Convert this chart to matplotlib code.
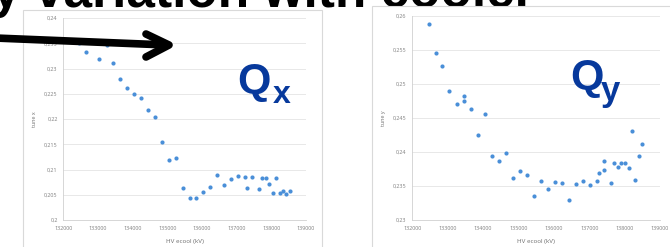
import matplotlib
matplotlib.use("Agg")
import matplotlib.pyplot as plt
from matplotlib.patches import Rectangle
from matplotlib.lines import Line2D
from matplotlib.ticker import FuncFormatter

# tune x vs HV ecool
hv_x = [132450, 132650, 133040, 133250, 133440, 133640, 133840, 134040, 134240,
        134440, 134640, 134840, 135040, 135240, 135440, 135640, 135840, 136040,
        136240, 136440, 136640, 136840, 137030, 137230, 137290, 137430, 137640,
        137730, 137840, 137940, 138040, 138140, 138240, 138340, 138430, 138540]
tune_x = [0.2351, 0.2333, 0.2319, 0.2347, 0.2311, 0.2280, 0.2261, 0.2249, 0.2241,
          0.2217, 0.2204, 0.2155, 0.2118, 0.2123, 0.2063, 0.2044, 0.2043, 0.2055,
          0.2065, 0.2089, 0.2070, 0.2081, 0.2087, 0.2086, 0.2064, 0.2085, 0.2061,
          0.2084, 0.2083, 0.2071, 0.2053, 0.2083, 0.2053, 0.2058, 0.2052, 0.2058]

# tune y vs HV ecool
hv_y = [132460, 132660, 132850, 133050, 133250, 133450, 133450, 133650, 133850,
        134050, 134240, 134440, 134640, 134840, 135040, 135230, 135430, 135630,
        135830, 136030, 136220, 136430, 136630, 136830, 137020, 137220, 137280,
        137420, 137420, 137620, 137710, 137810, 137910, 138010, 138110, 138200,
        138300, 138400, 138500]
tune_y = [0.2588, 0.2545, 0.2526, 0.2489, 0.2470, 0.2482, 0.2475, 0.2463, 0.2425,
          0.2455, 0.2394, 0.2387, 0.2398, 0.2362, 0.2372, 0.2366, 0.2335, 0.2358,
          0.2345, 0.2356, 0.2355, 0.2330, 0.2353, 0.2358, 0.2351, 0.2357, 0.2369,
          0.2373, 0.2386, 0.2355, 0.2384, 0.2378, 0.2383, 0.2383, 0.2377, 0.2430,
          0.2359, 0.2394, 0.2412]

x_ticks = [132000, 133000, 134000, 135000, 136000, 137000, 138000, 139000]
yticks_x = [0.2, 0.205, 0.21, 0.215, 0.22, 0.225, 0.23, 0.235, 0.24]
yticks_y = [0.23, 0.235, 0.24, 0.245, 0.25, 0.255, 0.26]

W, H = 670, 247
fig = plt.figure(figsize=(6.7, 2.47), dpi=100)
fig.patch.set_facecolor("white")


def fx(px):
    return px / W


def fy(py):
    return 1 - py / H


# slide title, partly hidden behind the chart pictures
fig.text(fx(-8), fy(7), "y variation with cooler", fontsize=37, fontweight="bold",
         family="Liberation Sans", color="black", va="baseline", ha="left", zorder=1)

# chart frames (white pictures on the slide)
for x0, y0, x1 in [(22.7, 10, 321.7), (371.7, 6, 680)]:
    r = Rectangle((fx(x0), fy(247.5)), fx(x1) - fx(x0), fy(y0) - fy(247.5),
                  transform=fig.transFigure, facecolor="white",
                  edgecolor="#d9d9d9", linewidth=0.8, zorder=2)
    fig.add_artist(r)

dot = "#4a8fd8"
grid = "#e4e4e4"
tick_col = "#7f7f7f"


def fmt(v, pos):
    return ("%.3f" % v).rstrip("0").replace(".", ",")


def style(ax, yticks, ylabel):
    ax.set_facecolor("none")
    ax.set_xlim(132000, 139000)
    ax.set_ylim(yticks[0], yticks[-1])
    ax.set_xticks(x_ticks)
    ax.set_yticks(yticks)
    ax.yaxis.set_major_formatter(FuncFormatter(fmt))
    ax.grid(axis="y", color=grid, linewidth=0.6)
    ax.set_axisbelow(True)
    for s in ["top", "right"]:
        ax.spines[s].set_visible(False)
    ax.spines["left"].set_color("#d0d0d0")
    ax.spines["bottom"].set_color("#d0d0d0")
    ax.spines["left"].set_linewidth(0.6)
    ax.spines["bottom"].set_linewidth(0.6)
    ax.tick_params(length=0, labelsize=3.9, labelcolor=tick_col, pad=4)
    for lab in ax.get_xticklabels() + ax.get_yticklabels():
        lab.set_family("Open Sans")
    ax.set_xlabel("HV ecool (kV)", fontsize=4.5, color="#6f6f6f", family="Open Sans")
    ax.set_ylabel(ylabel, fontsize=3.9, color="#6f6f6f", family="Open Sans")
    ax.xaxis.set_label_coords(0.5, -0.094)
    ax.yaxis.set_label_coords(-0.108, 0.5)


ax1 = fig.add_axes([fx(63.3), fy(220), fx(306) - fx(63.3), fy(18) - fy(220)], zorder=3)
ax1.scatter(hv_x, tune_x, s=9, color=dot, linewidths=0, zorder=3)
style(ax1, yticks_x, "tune x")

ax2 = fig.add_axes([fx(412.3), fy(220), fx(660) - fx(412.3), fy(15.7) - fy(220)], zorder=3)
ax2.scatter(hv_y, tune_y, s=9, color=dot, linewidths=0, zorder=3)
style(ax2, yticks_y, "tune y")

# Q labels
qcol = "#07399c"
fig.text(fx(237), fy(93), "Q", fontsize=31, fontweight="bold", family="Liberation Sans",
         color=qcol, va="baseline", ha="left", zorder=5)
fig.text(fx(273), fy(103), "x", fontsize=23, fontweight="bold", family="Liberation Sans",
         color=qcol, va="baseline", ha="left", zorder=5)
fig.text(fx(570), fy(89), "Q", fontsize=31, fontweight="bold", family="Liberation Sans",
         color=qcol, va="baseline", ha="left", zorder=5)
fig.text(fx(601), fy(101), "y", fontsize=25, fontweight="bold", family="Liberation Sans",
         color=qcol, va="baseline", ha="left", zorder=5)

# black arrow
arrow_kw = dict(transform=fig.transFigure, color="black", linewidth=5.5,
                solid_capstyle="round", solid_joinstyle="round", zorder=6)
fig.add_artist(Line2D([fx(-5), fx(167)], [fy(38), fy(45)], **arrow_kw))
fig.add_artist(Line2D([fx(146), fx(169), fx(146)], [fy(34), fy(45), fy(57)], **arrow_kw))

fig.savefig("out.png", dpi=100, facecolor="white")
